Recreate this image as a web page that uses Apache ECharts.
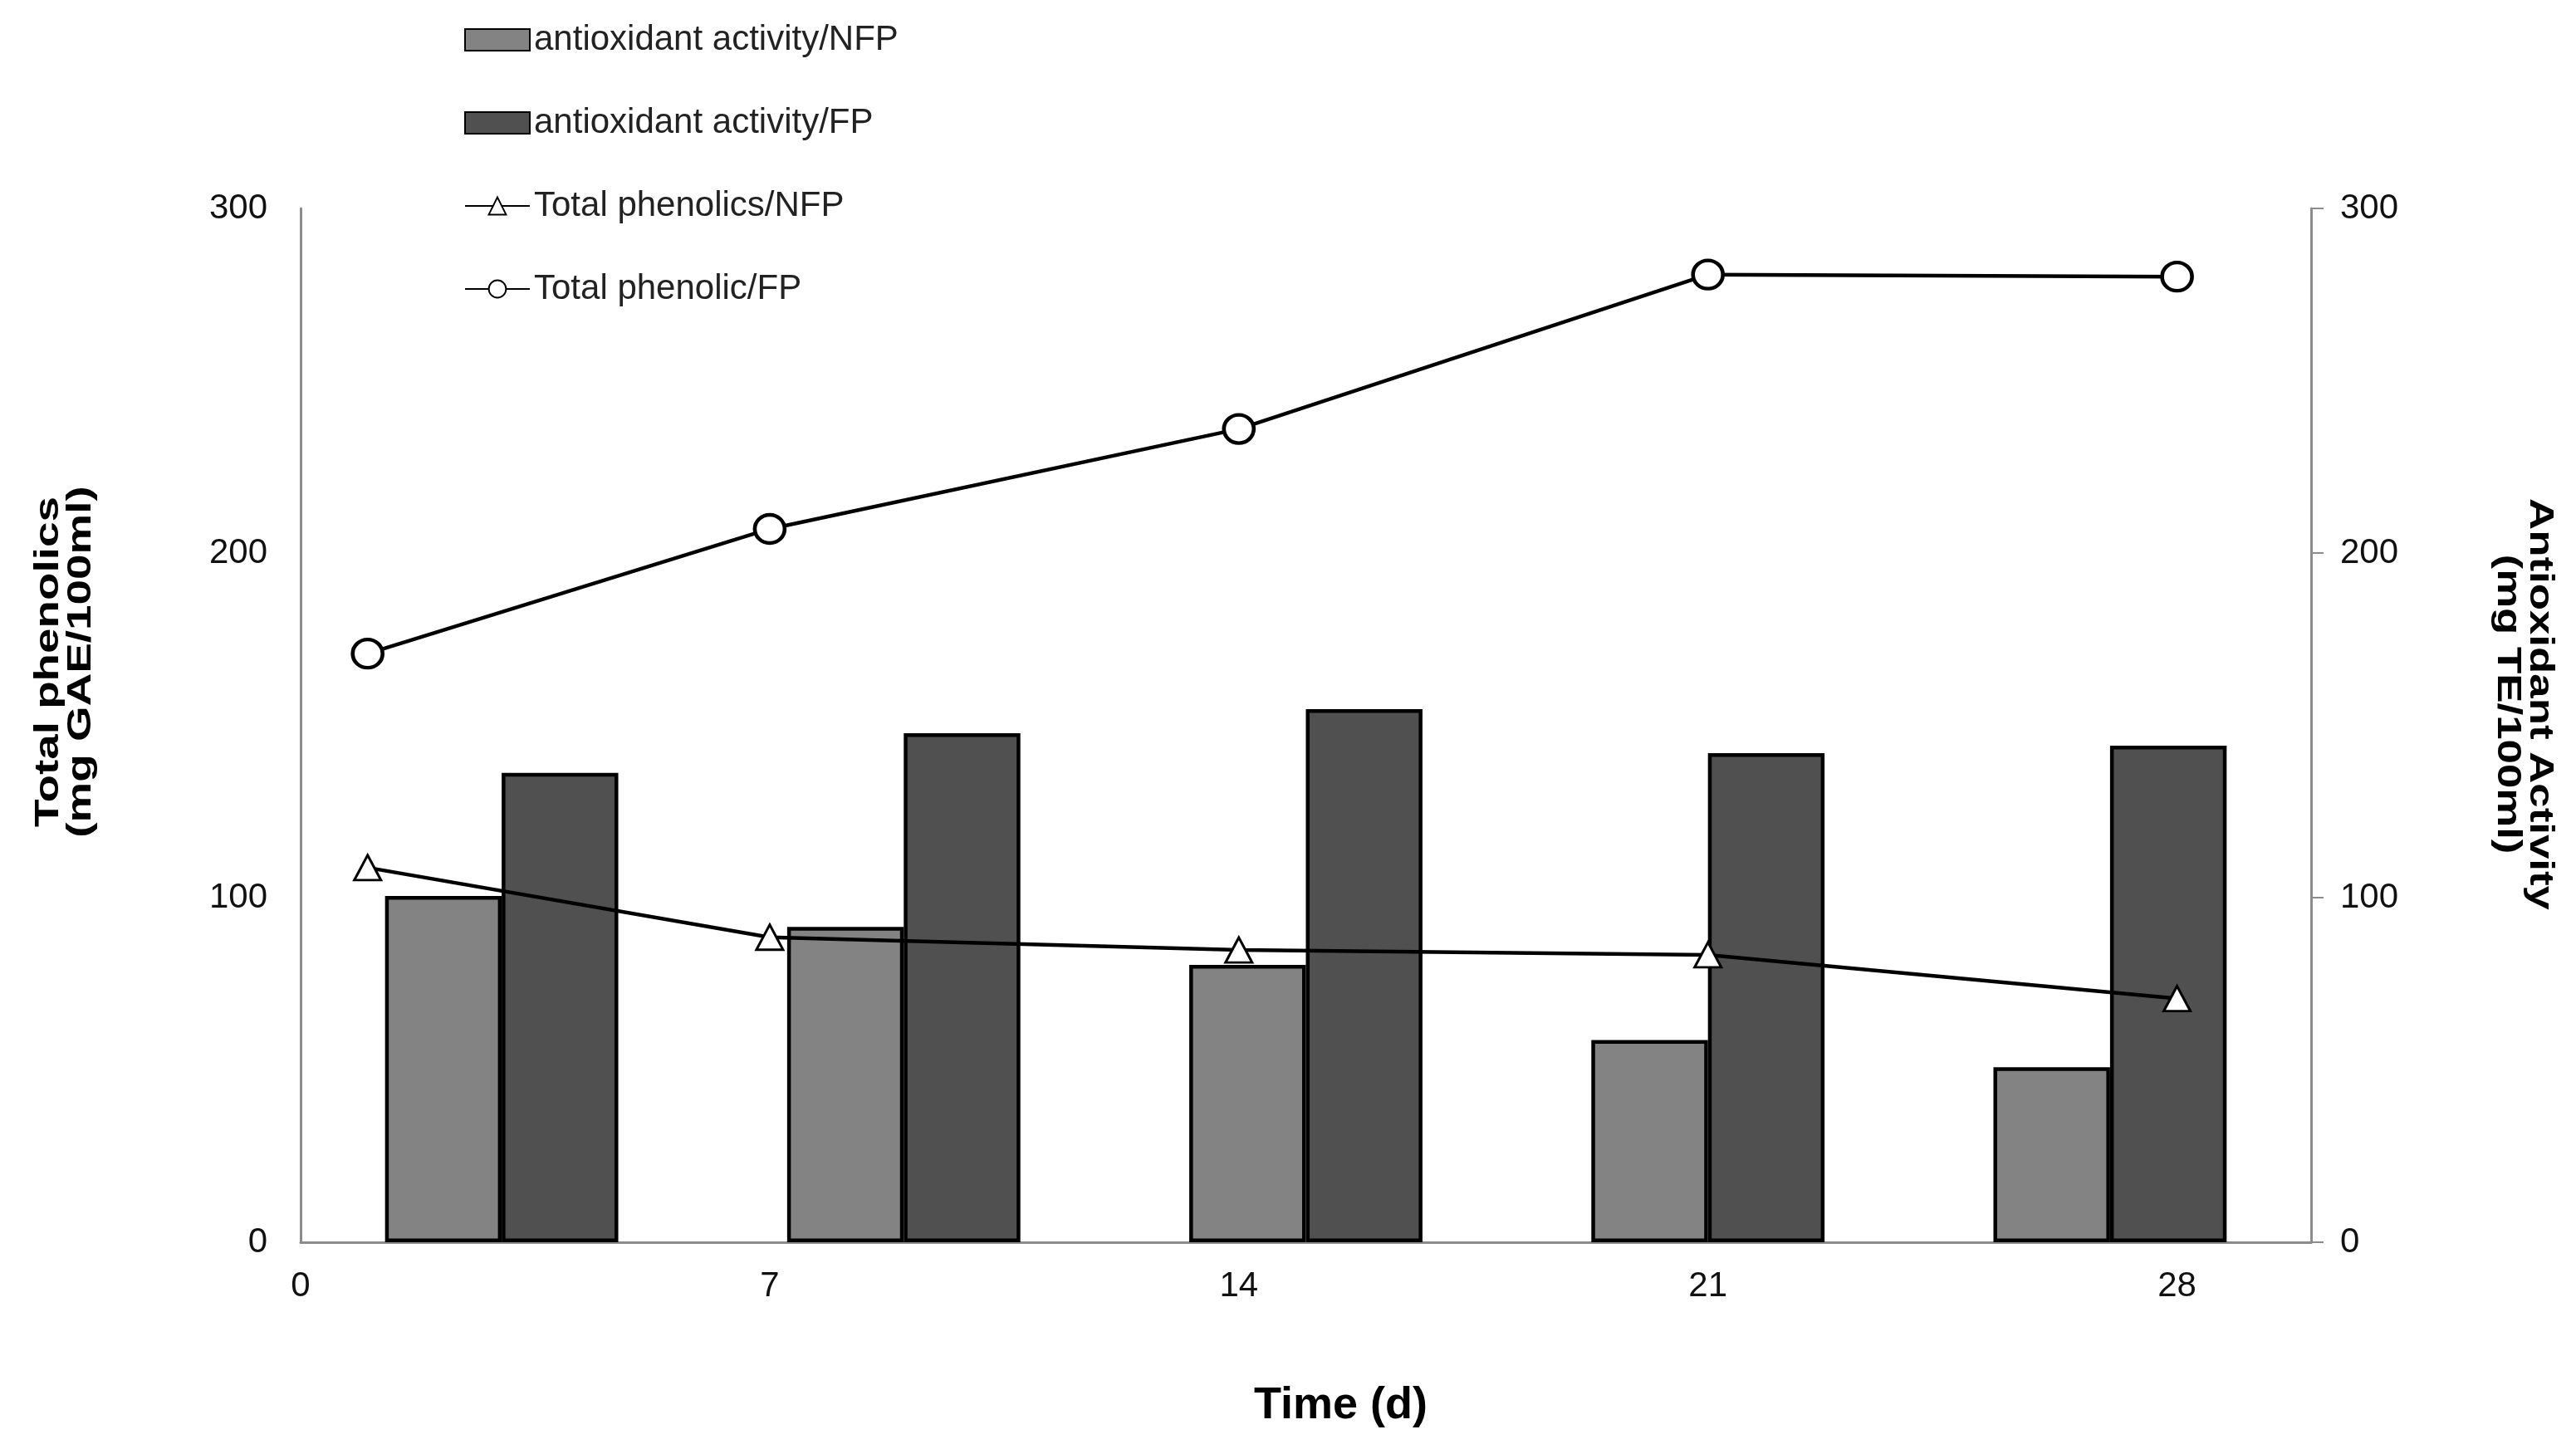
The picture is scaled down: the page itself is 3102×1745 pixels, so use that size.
<!DOCTYPE html>
<html><head><meta charset="utf-8">
<script src="https://cdn.jsdelivr.net/npm/echarts@6/dist/echarts.min.js"></script>
<style>html,body{margin:0;padding:0;background:#fff}#c{width:3102px;height:1745px}</style>
</head><body><div id="c"></div>
<script>
// ---- data ----
const days = [1, 7, 14, 21, 28];
const xTickStep = 7;
const xMax = 30;
const yTicks = [0, 100, 200, 300];
const antioxNFP = [100.5, 91.5, 80.5, 58.7, 50.8];
const antioxFP = [136.2, 147.7, 154.7, 141.9, 144.1];
const phenNFP = [108.7, 88.5, 84.8, 83.4, 70.7];
const phenFP = [170.8, 207.0, 236.0, 280.8, 280.2];
const names = ['antioxidant activity/NFP', 'antioxidant activity/FP', 'Total phenolics/NFP', 'Total phenolic/FP'];

const chart = echarts.init(document.getElementById('c'));
const axisGray = '#8c8c8c';
const tickFont = { fontSize: 42, color: '#111', fontFamily: 'Liberation Sans' };
const yMin = yTicks[0], yMax = yTicks[yTicks.length - 1], yStep = yTicks[1] - yTicks[0];

chart.setOption({
  animation: false,
  backgroundColor: '#fff',
  grid: { left: 362, right: 319, top: 251, bottom: 249 },
  legend: {
    orient: 'vertical', left: 554, top: 21,
    itemWidth: 78, itemHeight: 26, itemGap: 56,
    textStyle: { fontSize: 42, fontFamily: 'Liberation Sans', color: '#222', lineHeight: 44 },
    data: [
      { name: names[0], icon: 'rect' },
      { name: names[1], icon: 'rect' },
      { name: names[2] },
      { name: names[3] }
    ]
  },
  xAxis: [
    { type: 'category', data: days.map(String), show: false, position: 'bottom' },
    {
      type: 'value', min: 0, max: xMax, interval: xTickStep, position: 'bottom',
      axisLine: { show: true, lineStyle: { color: axisGray, width: 3 } },
      axisTick: { show: false }, splitLine: { show: false },
      axisLabel: Object.assign({ margin: 32, showMaxLabel: false }, tickFont),
      name: 'Time (d)', nameLocation: 'middle', nameGap: 170,
      nameTextStyle: { fontSize: 54, fontWeight: 'bold', color: '#000', fontFamily: 'Liberation Sans', padding: [0, 0, 0, 84] }
    }
  ],
  yAxis: [
    {
      type: 'value', position: 'left', min: yMin, max: yMax, interval: yStep,
      axisLine: { show: true, lineStyle: { color: axisGray, width: 3 } },
      axisTick: { show: false }, splitLine: { show: false },
      axisLabel: Object.assign({ margin: 40 }, tickFont)
    },
    {
      type: 'value', position: 'right', min: yMin, max: yMax, interval: yStep,
      axisLine: { show: true, lineStyle: { color: axisGray, width: 3 } },
      axisTick: { show: true, length: 15, lineStyle: { color: axisGray, width: 2 } },
      splitLine: { show: false },
      axisLabel: Object.assign({ margin: 35 }, tickFont)
    }
  ],
  graphic: [
    {
      type: 'text', x: 78, y: 797, rotation: Math.PI / 2, scaleX: 1.37,
      style: { text: 'Total phenolics\n(mg GAE/100ml)', fontSize: 40, fontWeight: 'bold', fontFamily: 'Liberation Sans',
               fill: '#000', align: 'center', verticalAlign: 'middle', lineHeight: 39 }
    },
    {
      type: 'text', x: 3039, y: 848, rotation: -Math.PI / 2, scaleX: 1.32,
      style: { text: 'Antioxidant Activity\n(mg TE/100ml)', fontSize: 40, fontWeight: 'bold', fontFamily: 'Liberation Sans',
               fill: '#000', align: 'center', verticalAlign: 'middle', lineHeight: 39 }
    }
  ],
  series: [
    {
      name: names[0], type: 'bar', xAxisIndex: 0, yAxisIndex: 1, data: antioxNFP,
      barWidth: '29%', barGap: '0%',
      itemStyle: { color: '#838383', borderColor: '#000', borderWidth: 4.5 }
    },
    {
      name: names[1], type: 'bar', xAxisIndex: 0, yAxisIndex: 1, data: antioxFP,
      barWidth: '29%', barGap: '0%',
      itemStyle: { color: '#505050', borderColor: '#000', borderWidth: 4.5 }
    },
    {
      name: names[2], type: 'line', xAxisIndex: 1, yAxisIndex: 0, z: 5,
      data: days.map((d, i) => [d, phenNFP[i]]),
      symbol: 'triangle', symbolSize: [32, 30],
      lineStyle: { color: '#000', width: 4.5 },
      itemStyle: { color: '#fff', borderColor: '#000', borderWidth: 3 }
    },
    {
      name: names[3], type: 'line', xAxisIndex: 1, yAxisIndex: 0, z: 5,
      data: days.map((d, i) => [d, phenFP[i]]),
      symbol: 'circle', symbolSize: [36, 34],
      lineStyle: { color: '#000', width: 4.5 },
      itemStyle: { color: '#fff', borderColor: '#000', borderWidth: 4.5 }
    }
  ]
});
</script></body></html>
